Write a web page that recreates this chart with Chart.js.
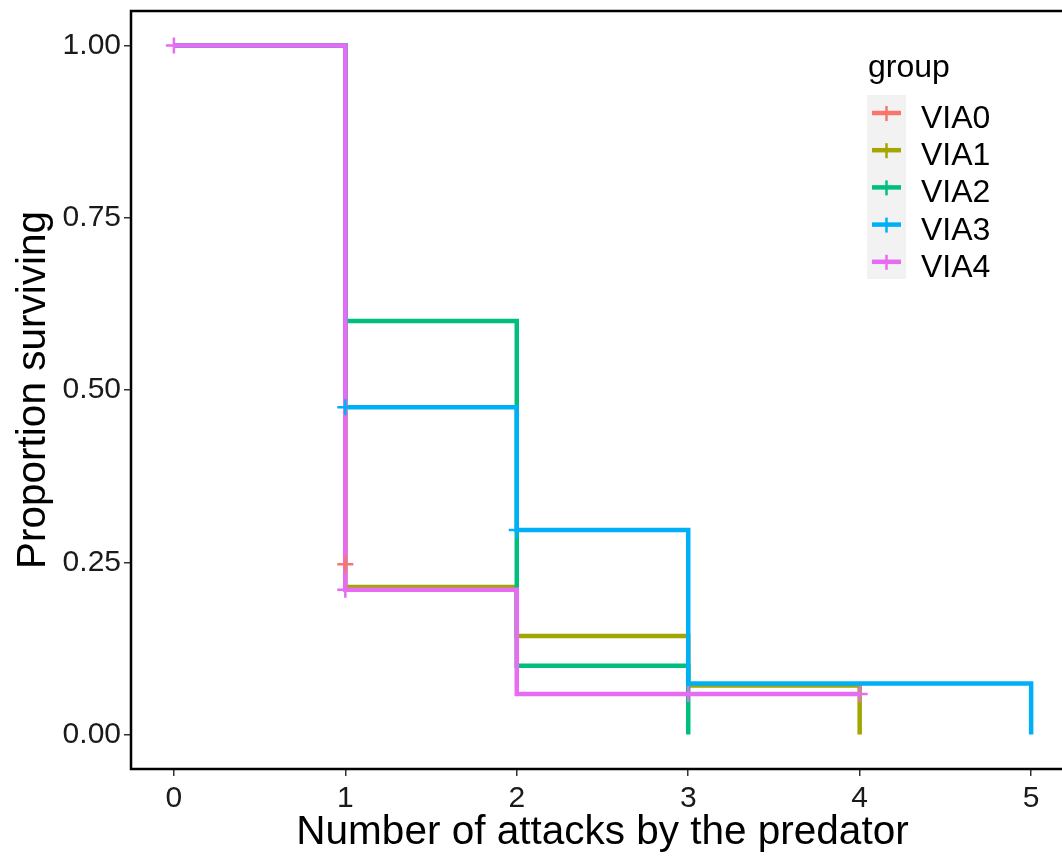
<!DOCTYPE html>
<html>
<head>
<meta charset="utf-8">
<script src="https://cdn.jsdelivr.net/npm/chart.js@4"></script>
<style>
  html, body { margin: 0; padding: 0; background: #fff; overflow: hidden; }
  #wrap { width: 1090px; height: 857px; }
</style>
</head>
<body>
<div id="wrap"><canvas id="kmChart"></canvas></div>
<script>
// Groups and colours
const groups = ['VIA0', 'VIA1', 'VIA2', 'VIA3', 'VIA4'];
const colors = ['#F8766D', '#A3A500', '#00BF7D', '#00B0F6', '#E76BF3'];

// Survival steps (attack number -> proportion surviving)
const via0Time = [0, 1];
const via0Surv = [1, 0.247];
const via1Time = [0, 1, 2, 3, 4];
const via1Surv = [1, 0.214, 0.143, 0.071, 0];
const via2Time = [0, 1, 2, 3];
const via2Surv = [1, 0.6, 0.1, 0];
const via3Time = [0, 1, 2, 3, 5];
const via3Surv = [1, 0.475, 0.297, 0.074, 0];
const via4Time = [0, 1, 2, 4];
const via4Surv = [1, 0.21, 0.059, 0.059];

// Censor marks
const via0CensorTime = [1];
const via0CensorSurv = [0.247];
const via3CensorTime = [1, 2];
const via3CensorSurv = [0.475, 0.297];
const via4CensorTime = [0, 1, 3, 4];
const via4CensorSurv = [1, 0.21, 0.059, 0.059];

// Axis ticks
const xTicks = [0, 1, 2, 3, 4, 5];
const yTicks = [0, 0.25, 0.5, 0.75, 1];

const times = [via0Time, via1Time, via2Time, via3Time, via4Time];
const survs = [via0Surv, via1Surv, via2Surv, via3Surv, via4Surv];
const censorTimes = [via0CensorTime, [], [], via3CensorTime, via4CensorTime];
const censorSurvs = [via0CensorSurv, [], [], via3CensorSurv, via4CensorSurv];

const toPoints = (xs, ys) => xs.map((x, i) => ({ x, y: ys[i] }));

const datasets = [];
groups.forEach((g, i) => {
    datasets.push({
        label: g,
        data: toPoints(times[i], survs[i]),
        showLine: true,
        stepped: 'before',
        borderColor: colors[i],
        borderWidth: 4.5,
        borderCapStyle: 'butt',
        borderJoinStyle: 'miter',
        pointRadius: 0,
        fill: false,
        order: 20 - i,
    });
});
groups.forEach((g, i) => {
    if (!censorTimes[i].length) return;
    datasets.push({
        label: g + ' censor',
        data: toPoints(censorTimes[i], censorSurvs[i]),
        showLine: false,
        pointStyle: 'cross',
        pointRadius: 8,
        pointBorderWidth: 2.5,
        pointBorderColor: colors[i],
        pointBackgroundColor: colors[i],
        order: 10 - i,
    });
});

// Frame + ggplot style legend
const framePlugin = {
    id: 'frame',
    afterDraw(chart) {
        const { ctx, chartArea: a } = chart;
        ctx.save();
        ctx.strokeStyle = '#000';
        ctx.lineWidth = 2.5;
        ctx.strokeRect(a.left, a.top, a.right - a.left, a.bottom - a.top);

        // legend
        ctx.fillStyle = '#000';
        ctx.font = '32px "Liberation Sans", Arial, sans-serif';
        ctx.textBaseline = 'alphabetic';
        ctx.fillText('group', 868, 77);

        ctx.fillStyle = '#F2F2F2';
        ctx.fillRect(867, 95, 39, 184);

        groups.forEach((g, i) => {
            const y = 113 + i * 37.2;
            ctx.strokeStyle = colors[i];
            ctx.lineWidth = 4.5;
            ctx.beginPath();
            ctx.moveTo(872, y);
            ctx.lineTo(901, y);
            ctx.stroke();
            ctx.lineWidth = 2.5;
            ctx.beginPath();
            ctx.moveTo(886.5, y - 7);
            ctx.lineTo(886.5, y + 8);
            ctx.stroke();
            ctx.fillStyle = '#000';
            ctx.fillText(g, 921, y + 15);
        });
        ctx.restore();
    }
};

const fontFamily = '"Liberation Sans", Arial, sans-serif';

new Chart(document.getElementById('kmChart').getContext('2d'), {
    type: 'scatter',
    data: { datasets },
    options: {
        responsive: true,
        maintainAspectRatio: false,
        animation: false,
        layout: { padding: { left: 0, top: 11, right: 16, bottom: 0 } },
        plugins: {
            legend: { display: false },
            tooltip: { enabled: false },
        },
        scales: {
            x: {
                type: 'linear',
                min: -0.25,
                max: 5.25,
                afterBuildTicks: (scale) => { scale.ticks = xTicks.map((v) => ({ value: v })); },
                afterFit: (scale) => { scale.height = 88; },
                grid: { drawOnChartArea: false, drawTicks: true, tickLength: 7, color: '#333', lineWidth: 1.5 },
                border: { display: false },
                ticks: { color: '#1a1a1a', padding: 5, font: { family: fontFamily, size: 30 }, maxRotation: 0 },
                title: {
                    display: true,
                    text: 'Number of attacks by the predator',
                    color: '#000',
                    font: { family: fontFamily, size: 40.5, lineHeight: 1 },
                    padding: { top: 0, bottom: 4 },
                },
            },
            y: {
                type: 'linear',
                min: -0.05,
                max: 1.05,
                afterBuildTicks: (scale) => { scale.ticks = yTicks.map((v) => ({ value: v })); },
                afterFit: (scale) => {
                    scale.width = 131;
                    scale.paddingTop = 0;
                    scale.paddingBottom = 0;
                },
                grid: { drawOnChartArea: false, drawTicks: true, tickLength: 7, color: '#333', lineWidth: 1.5 },
                border: { display: false },
                ticks: {
                    color: '#1a1a1a',
                    padding: 3,
                    font: { family: fontFamily, size: 30 },
                    callback: (v) => Number(v).toFixed(2),
                },
                title: {
                    display: true,
                    text: 'Proportion surviving',
                    color: '#000',
                    font: { family: fontFamily, size: 40.5, lineHeight: 1 },
                    padding: { top: 14, bottom: 0 },
                },
            },
        },
    },
    plugins: [framePlugin],
});
</script>
</body>
</html>
